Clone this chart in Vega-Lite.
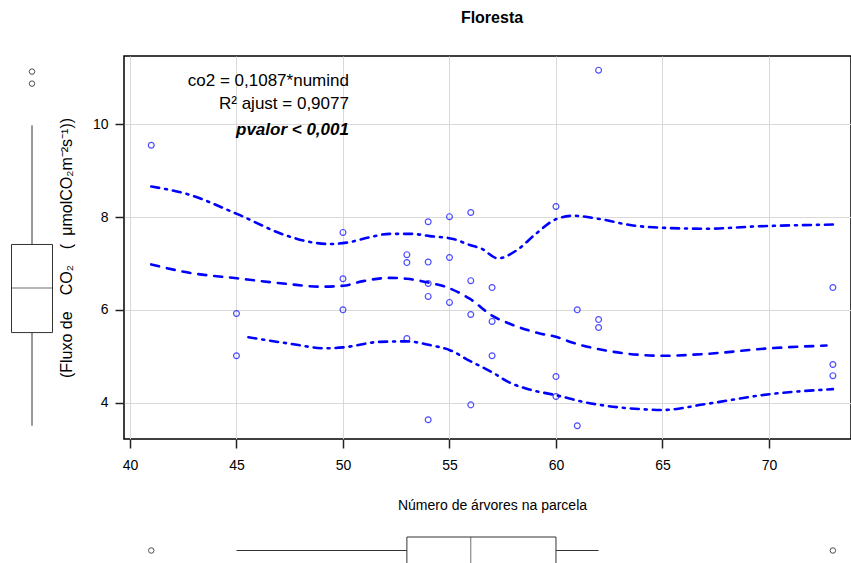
{
  "$schema": "https://vega.github.io/schema/vega-lite/v6.json",
  "background": "white",
  "padding": {"left": 0, "top": 9, "right": 0, "bottom": 0},
  "config": {"font": "Liberation Sans", "view": {"stroke": null}},
  "datasets": {
    "pts": [
      {"x": 41, "y": 9.55}, {"x": 45, "y": 5.92}, {"x": 45, "y": 5.01},
      {"x": 50, "y": 7.67}, {"x": 50, "y": 6.67}, {"x": 50, "y": 6.0},
      {"x": 53, "y": 7.19}, {"x": 53, "y": 7.02}, {"x": 53, "y": 5.38},
      {"x": 54, "y": 7.9}, {"x": 54, "y": 7.03}, {"x": 54, "y": 6.57}, {"x": 54, "y": 6.29}, {"x": 54, "y": 3.63},
      {"x": 55, "y": 8.01}, {"x": 55, "y": 7.13}, {"x": 55, "y": 6.16},
      {"x": 56, "y": 8.1}, {"x": 56, "y": 6.63}, {"x": 56, "y": 5.9}, {"x": 56, "y": 3.95},
      {"x": 57, "y": 6.48}, {"x": 57, "y": 5.75}, {"x": 57, "y": 5.01},
      {"x": 60, "y": 8.23}, {"x": 60, "y": 4.56}, {"x": 60, "y": 4.13},
      {"x": 61, "y": 6.0}, {"x": 61, "y": 3.5},
      {"x": 62, "y": 11.17}, {"x": 62, "y": 5.79}, {"x": 62, "y": 5.62},
      {"x": 73, "y": 6.48}, {"x": 73, "y": 4.82}, {"x": 73, "y": 4.58}
    ],
    "central": [
      {"x": 41, "y": 6.98}, {"x": 42.67, "y": 6.81}, {"x": 45.02, "y": 6.68}, {"x": 47.36, "y": 6.56},
      {"x": 48.92, "y": 6.5}, {"x": 50.01, "y": 6.52}, {"x": 50.95, "y": 6.62}, {"x": 52.2, "y": 6.69},
      {"x": 52.99, "y": 6.67}, {"x": 54.0, "y": 6.59}, {"x": 54.86, "y": 6.49}, {"x": 55.95, "y": 6.24},
      {"x": 57.02, "y": 5.87}, {"x": 57.83, "y": 5.7}, {"x": 58.77, "y": 5.55}, {"x": 59.24, "y": 5.49},
      {"x": 59.99, "y": 5.42}, {"x": 60.8, "y": 5.29}, {"x": 62.36, "y": 5.12}, {"x": 63.92, "y": 5.03},
      {"x": 65.02, "y": 5.01}, {"x": 67.05, "y": 5.05}, {"x": 70.02, "y": 5.17}, {"x": 72.7, "y": 5.23}
    ],
    "upper": [
      {"x": 41, "y": 8.66}, {"x": 42.67, "y": 8.5}, {"x": 45.02, "y": 8.07}, {"x": 47.36, "y": 7.6},
      {"x": 48.5, "y": 7.46}, {"x": 49.4, "y": 7.42}, {"x": 50.17, "y": 7.45}, {"x": 51.2, "y": 7.56},
      {"x": 52.2, "y": 7.64}, {"x": 53.2, "y": 7.64}, {"x": 54.08, "y": 7.59}, {"x": 55.17, "y": 7.53},
      {"x": 55.95, "y": 7.4}, {"x": 56.5, "y": 7.32}, {"x": 57.28, "y": 7.11}, {"x": 58.14, "y": 7.28},
      {"x": 59.08, "y": 7.65}, {"x": 60.02, "y": 7.96}, {"x": 60.8, "y": 8.03}, {"x": 62.05, "y": 7.96},
      {"x": 63.61, "y": 7.82}, {"x": 65.02, "y": 7.77}, {"x": 67.05, "y": 7.75}, {"x": 69.4, "y": 7.8},
      {"x": 73, "y": 7.84}
    ],
    "lower": [
      {"x": 45.56, "y": 5.41}, {"x": 47.36, "y": 5.28}, {"x": 49.24, "y": 5.17}, {"x": 50.01, "y": 5.19},
      {"x": 51.73, "y": 5.31}, {"x": 52.99, "y": 5.32}, {"x": 54.08, "y": 5.24}, {"x": 55.02, "y": 5.13},
      {"x": 55.95, "y": 4.9}, {"x": 57.02, "y": 4.65}, {"x": 57.83, "y": 4.43}, {"x": 58.77, "y": 4.28},
      {"x": 59.99, "y": 4.16}, {"x": 61.43, "y": 4.0}, {"x": 62.05, "y": 3.95}, {"x": 63.92, "y": 3.86},
      {"x": 65.02, "y": 3.84}, {"x": 67.05, "y": 3.97}, {"x": 70.02, "y": 4.18}, {"x": 73, "y": 4.29}
    ],
    "ybox": [{"g": "y", "lower": 3.5, "q1": 5.51, "median": 6.47, "q3": 7.41, "upper": 9.98}],
    "yout": [{"g": "y", "v": 11.14}, {"g": "y", "v": 10.88}],
    "xbox": [{"g": "x", "lower": 45, "q1": 53, "median": 56, "q3": 60, "upper": 62}],
    "xout": [{"g": "x", "v": 41}, {"g": "x", "v": 73}]
  },
  "columns": 2,
  "bounds": "flush",
  "align": "each",
  "spacing": {"row": 98, "column": 60},
  "concat": [
    {
      "width": 64,
      "height": 383,
      "view": {"stroke": null},
      "layer": [
        {
          "data": {"name": "ybox"},
          "mark": {"type": "rule", "color": "#333333", "strokeWidth": 1},
          "encoding": {
            "x": {"field": "g", "type": "nominal", "axis": null},
            "y": {"field": "lower", "type": "quantitative", "scale": {"domain": [3.214, 11.476], "nice": false, "zero": false}, "axis": null},
            "y2": {"field": "upper"}
          }
        },
        {
          "data": {"name": "ybox"},
          "mark": {"type": "bar", "fill": "white", "stroke": "#333333", "strokeWidth": 1, "size": 41},
          "encoding": {
            "x": {"field": "g", "type": "nominal", "axis": null},
            "y": {"field": "q1", "type": "quantitative", "axis": null},
            "y2": {"field": "q3"}
          }
        },
        {
          "data": {"name": "ybox"},
          "mark": {"type": "tick", "color": "#333333", "size": 41, "thickness": 1, "orient": "horizontal"},
          "encoding": {
            "x": {"field": "g", "type": "nominal", "axis": null},
            "y": {"field": "median", "type": "quantitative", "axis": null}
          }
        },
        {
          "data": {"name": "yout"},
          "mark": {"type": "point", "shape": "circle", "filled": false, "color": "black", "size": 30, "strokeWidth": 1},
          "encoding": {
            "x": {"field": "g", "type": "nominal", "axis": null},
            "y": {"field": "v", "type": "quantitative", "axis": null}
          }
        }
      ]
    },
    {
      "width": 727,
      "height": 383,
      "view": {"stroke": "black", "strokeWidth": 1.5},
      "title": {"text": "Floresta", "fontSize": 16, "fontWeight": "bold", "color": "black", "offset": 30, "dx": 4.5, "anchor": "middle", "font": "Liberation Sans"},
      "layer": [
        {
          "data": {"name": "pts"},
          "mark": {"type": "point", "shape": "circle", "filled": false, "color": "#0000ff", "size": 34, "strokeWidth": 1.2},
          "encoding": {
            "x": {
              "field": "x", "type": "quantitative", "title": "Número de árvores na parcela",
              "scale": {"domain": [39.72, 73.85], "nice": false, "zero": false},
              "axis": {
                "values": [40, 45, 50, 55, 60, 65, 70],
                "grid": true, "gridColor": "#d9d9d9", "gridWidth": 1,
                "domain": false, "tickColor": "#222222", "tickWidth": 1.5, "tickSize": 9,
                "labelFontSize": 14, "labelColor": "black", "labelPadding": 10, "labelFlush": false,
                "titleFontSize": 14, "titleFontWeight": "normal", "titleColor": "black", "titlePadding": 26, "titleX": 368
              }
            },
            "y": {
              "field": "y", "type": "quantitative", "title": "(Fluxo de\u2002\u2002CO₂\u2002\u2002(\u2002μmolCO₂m⁻²s⁻¹))",
              "scale": {"domain": [3.214, 11.476], "nice": false, "zero": false},
              "axis": {
                "values": [4, 6, 8, 10],
                "grid": true, "gridColor": "#d9d9d9", "gridWidth": 1,
                "domain": false, "tickColor": "#222222", "tickWidth": 1.5, "tickSize": 9,
                "labelFontSize": 14, "labelColor": "black", "labelPadding": 7, "labelAngle": 0,
                "titleFontSize": 16, "titleFontWeight": "normal", "titleColor": "black", "titlePadding": 18
              }
            }
          }
        },
        {
          "data": {"name": "central"},
          "mark": {"type": "line", "color": "#0000ff", "strokeWidth": 2.6, "strokeCap": "round", "strokeDash": [8, 8], "interpolate": "monotone"},
          "encoding": {
            "x": {"field": "x", "type": "quantitative", "title": "Número de árvores na parcela"},
            "y": {"field": "y", "type": "quantitative", "title": "(Fluxo de\u2002\u2002CO₂\u2002\u2002(\u2002μmolCO₂m⁻²s⁻¹))"}
          }
        },
        {
          "data": {"name": "upper"},
          "mark": {"type": "line", "color": "#0000ff", "strokeWidth": 2.6, "strokeCap": "round", "strokeDash": [8, 6, 2, 6], "interpolate": "monotone"},
          "encoding": {
            "x": {"field": "x", "type": "quantitative", "title": "Número de árvores na parcela"},
            "y": {"field": "y", "type": "quantitative", "title": "(Fluxo de\u2002\u2002CO₂\u2002\u2002(\u2002μmolCO₂m⁻²s⁻¹))"}
          }
        },
        {
          "data": {"name": "lower"},
          "mark": {"type": "line", "color": "#0000ff", "strokeWidth": 2.6, "strokeCap": "round", "strokeDash": [8, 6, 2, 6], "interpolate": "monotone"},
          "encoding": {
            "x": {"field": "x", "type": "quantitative", "title": "Número de árvores na parcela"},
            "y": {"field": "y", "type": "quantitative", "title": "(Fluxo de\u2002\u2002CO₂\u2002\u2002(\u2002μmolCO₂m⁻²s⁻¹))"}
          }
        },
        {
          "data": {"values": [{"label": "co2 = 0,1087*numind"}]},
          "mark": {"type": "text", "align": "right", "baseline": "middle", "fontSize": 17, "color": "black"},
          "encoding": {
            "x": {"datum": 50.28, "type": "quantitative", "title": "Número de árvores na parcela"},
            "y": {"datum": 10.935, "type": "quantitative", "title": "(Fluxo de\u2002\u2002CO₂\u2002\u2002(\u2002μmolCO₂m⁻²s⁻¹))"},
            "text": {"field": "label"}
          }
        },
        {
          "data": {"values": [{"label": "R² ajust = 0,9077"}]},
          "mark": {"type": "text", "align": "right", "baseline": "middle", "fontSize": 17, "color": "black"},
          "encoding": {
            "x": {"datum": 50.28, "type": "quantitative", "title": "Número de árvores na parcela"},
            "y": {"datum": 10.43, "type": "quantitative", "title": "(Fluxo de\u2002\u2002CO₂\u2002\u2002(\u2002μmolCO₂m⁻²s⁻¹))"},
            "text": {"field": "label"}
          }
        },
        {
          "data": {"values": [{"label": "pvalor < 0,001"}]},
          "mark": {"type": "text", "align": "right", "baseline": "middle", "fontSize": 17, "fontWeight": "bold", "fontStyle": "italic", "color": "black"},
          "encoding": {
            "x": {"datum": 50.28, "type": "quantitative", "title": "Número de árvores na parcela"},
            "y": {"datum": 9.885, "type": "quantitative", "title": "(Fluxo de\u2002\u2002CO₂\u2002\u2002(\u2002μmolCO₂m⁻²s⁻¹))"},
            "text": {"field": "label"}
          }
        }
      ]
    },
    {
      "width": 64,
      "height": 27,
      "view": {"stroke": null},
      "data": {"values": []},
      "mark": {"type": "point", "opacity": 0}
    },
    {
      "width": 727,
      "height": 27,
      "view": {"stroke": null},
      "layer": [
        {
          "data": {"name": "xbox"},
          "mark": {"type": "rule", "color": "#333333", "strokeWidth": 1},
          "encoding": {
            "y": {"field": "g", "type": "nominal", "axis": null},
            "x": {"field": "lower", "type": "quantitative", "scale": {"domain": [39.72, 73.85], "nice": false, "zero": false}, "axis": null},
            "x2": {"field": "upper"}
          }
        },
        {
          "data": {"name": "xbox"},
          "mark": {"type": "bar", "fill": "white", "stroke": "#333333", "strokeWidth": 1, "size": 27},
          "encoding": {
            "y": {"field": "g", "type": "nominal", "axis": null},
            "x": {"field": "q1", "type": "quantitative", "axis": null},
            "x2": {"field": "q3"}
          }
        },
        {
          "data": {"name": "xbox"},
          "mark": {"type": "tick", "color": "#333333", "size": 27, "thickness": 1, "orient": "vertical"},
          "encoding": {
            "y": {"field": "g", "type": "nominal", "axis": null},
            "x": {"field": "median", "type": "quantitative", "axis": null}
          }
        },
        {
          "data": {"name": "xout"},
          "mark": {"type": "point", "shape": "circle", "filled": false, "color": "black", "size": 30, "strokeWidth": 1},
          "encoding": {
            "y": {"field": "g", "type": "nominal", "axis": null},
            "x": {"field": "v", "type": "quantitative", "axis": null}
          }
        }
      ]
    }
  ]
}
